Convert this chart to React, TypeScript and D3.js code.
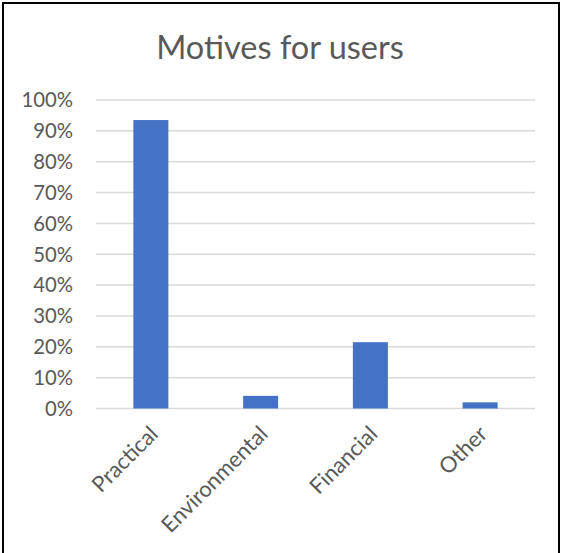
import React from "react";
import * as d3 from "d3";

const categories = ["Practical", "Environmental", "Financial", "Other"];
const values = [0.935, 0.041, 0.215, 0.02];
const yTicks = [0, 0.1, 0.2, 0.3, 0.4, 0.5, 0.6, 0.7, 0.8, 0.9, 1.0];
const title = "Motives for users";

export default function App() {
  const W = 564, H = 553;
  const x = d3.scaleBand<string>().domain(categories).range([96, 535]).padding(0);
  const y = d3.scaleLinear().domain([0, 1]).range([408.5, 100]);
  const barW = x.step() * 0.319;
  const font = "Lato, 'Open Sans', sans-serif";
  const textColor = "#595959";
  const fmt = d3.format(".0%");
  return (
    <div style={{ position: "absolute", left: 0, top: 0 }}>
      <svg width={W} height={H} style={{ display: "block" }}>
        <rect x={0} y={0} width={W} height={H} fill="#fff" />
        <text x={280} y={59} textAnchor="middle" fontFamily={font} fontSize={32.5} fill={textColor}>
          {title}
        </text>
        {yTicks.map((t) => (
          <g key={t}>
            <line x1={96} x2={535} y1={y(t)} y2={y(t)} stroke="#D9D9D9" strokeWidth={1.5} />
            <text x={73} y={y(t)} dy="0.36em" textAnchor="end" fontFamily={font} fontSize={20.3} fill={textColor}>
              {fmt(t)}
            </text>
          </g>
        ))}
        {categories.map((c, i) => {
          const cx = (x(c) as number) + x.step() / 2;
          return (
            <g key={c}>
              <rect x={cx - barW / 2} y={y(values[i])} width={barW} height={y(0) - y(values[i])} fill="#4472C4" />
              <text
                transform={`translate(${cx + 3},${430}) rotate(-45)`}
                textAnchor="end"
                dy="0.35em"
                fontFamily={font}
                fontSize={22}
                fill={textColor}
              >
                {c}
              </text>
            </g>
          );
        })}
        <rect x={3} y={3} width={556} height={H + 5} fill="none" stroke="#000" strokeWidth={2} />
      </svg>
    </div>
  );
}
